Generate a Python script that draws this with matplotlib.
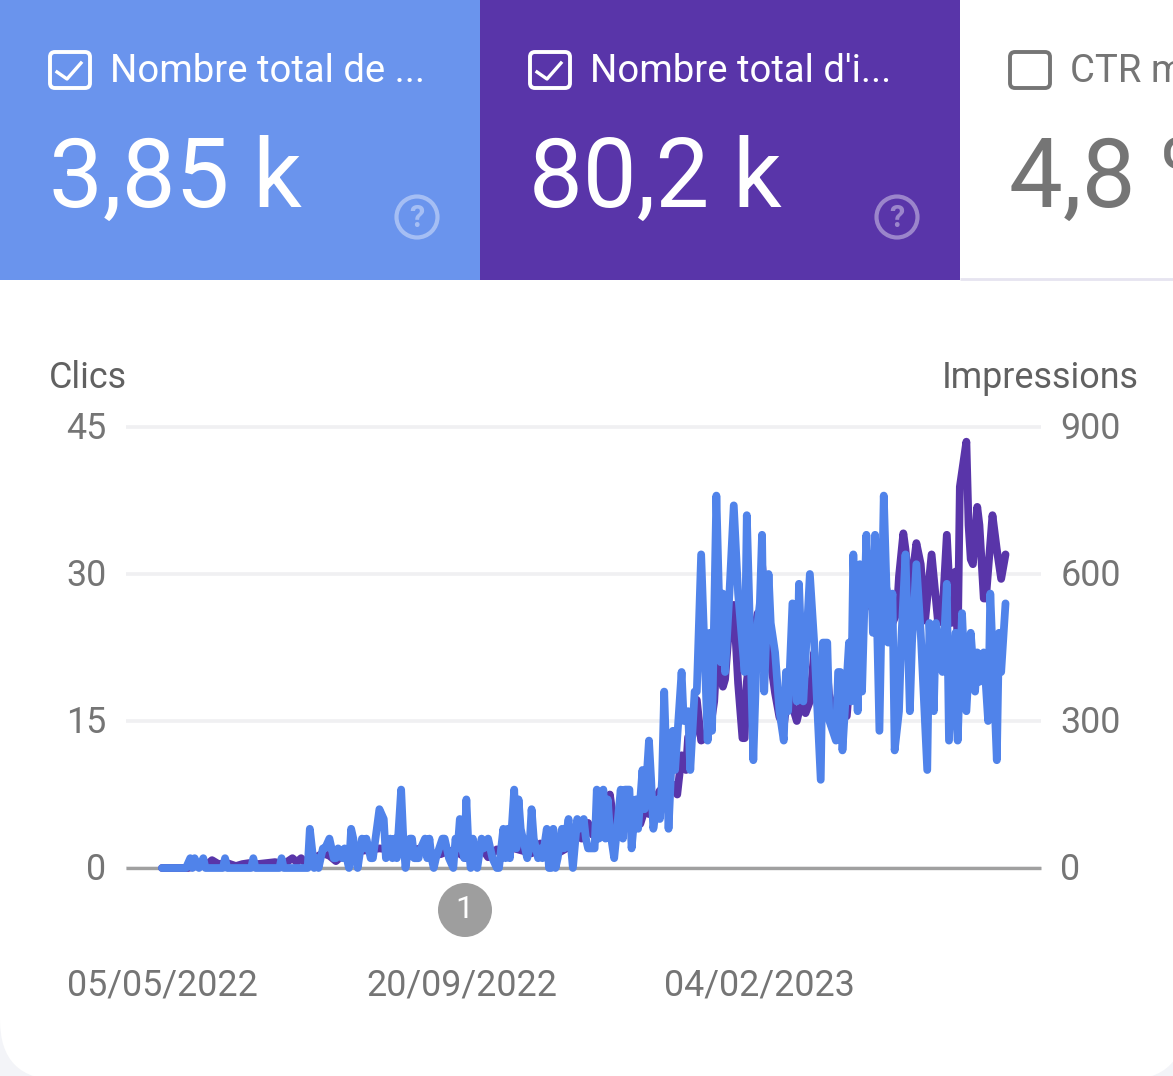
import datetime as dt
import matplotlib
matplotlib.use("Agg")
import matplotlib.pyplot as plt
import matplotlib.dates as mdates
from matplotlib.patches import Rectangle, FancyBboxPatch, Circle
from matplotlib.transforms import ScaledTranslation

plt.rcParams['font.family'] = ['Roboto', 'DejaVu Sans']

START = dt.date(2022, 5, 5)

# (jour depuis le debut, valeur)
clics_pts = [
    (0,0),(11,0),(13,1),(14,0),(15,1),(17,0),(19,1),(20,0),(28,0),(29,1),(30,0),(41,0),(42,1),(43,0),
    (54,0),(55,1),(56,0),(67,0),(68,4),(70,0),(71,1),(72,0),(74,2),(75,2),(77,3),(79,1),(80,1),(81,2),
    (83,1),(84,2),(85,1),(86,0),(87,4),(88,3),(89,1),(90,0),(92,3),(93,2),(94,3),(95,2),(96,1),(97,1),
    (100,6),(102,5),(103,1),(105,3),(106,1),(107,3),(108,1),(110,8),(111,3),(112,0),(114,3),(115,3),
    (116,1),(118,1),(119,2),(121,3),(122,1),(123,3),(124,1),(125,0),(126,1),(129,3),(130,3),(131,2),
    (132,1),(134,0),(135,3),(136,2),(137,5),(138,2),(139,1),(140,7),(141,2),(142,0),(143,3),(145,0),
    (147,3),(148,2),(150,3),(152,1),(154,0),(155,0),(157,4),(158,1),(159,4),(160,1),(162,8),(163,2),
    (164,7),(165,4),(167,2),(168,1),(169,2),(170,6),(171,3),(173,1),(174,2),(175,1),(177,4),(178,0),
    (179,0),(180,4),(181,0),(182,1),(184,4),(185,2),(187,5),(189,0),(191,5),(192,4),(194,5),(195,3),
    (196,2),(199,2),(200,8),(201,3),(203,8),(204,3),(205,7),(206,4),(208,1),(211,8),(212,3),(213,8),
    (215,8),(216,2),(218,7),(219,4),(221,10),(222,6),(224,13),(225,9),(226,4),(228,7),(229,5),(230,9),
    (231,18),(232,11),(233,4),(235,14),(236,10),(239,20),(240,15),(242,16),(243,10),(245,18),(246,18),
    (248,32),(251,13),(252,24),(253,14),(255,38),(257,21),(258,28),(259,20),(261,28),(263,37),(265,28),
    (268,20),(269,36),(271,20),(272,11),(274,25),(275,27),(276,34),(277,18),(279,30),(280,25),(282,22),
    (284,16),(286,13),(287,20),(288,16),(290,27),(292,17),(293,29),(295,17),(298,30),(300,23),(303,9),
    (304,23),(306,23),(307,15),(310,13),(311,20),(312,20),(313,12),(316,23),(317,17),(318,32),(320,16),
    (321,31),(322,18),(324,34),(325,27),(326,32),(327,24),(328,34),(330,14),(332,38),(334,23),(336,28),
    (337,12),(339,16),(340,23),(342,32),(344,16),(345,23),(347,31),(349,24),(352,10),(353,25),(355,16),
    (356,25),(359,20),(361,29),(362,13),(365,24),(366,13),(368,26),(370,16),(372,24),(374,18),(375,22),
    (376,19),(378,22),(380,15),(381,28),(384,11),(385,24),(386,20),(388,27),
]
impressions_pts = [
    (0,0),(12,0),(16,4),(19,6),(21,8),(23,16),(26,8),(30,10),(34,4),(37,8),(40,10),(44,8),(48,10),(52,12),
    (56,8),(60,20),(62,12),(64,20),(66,10),(70,20),(74,30),(77,25),(80,14),(84,30),(88,30),(92,35),(100,40),
    (104,38),(108,45),(112,45),(116,38),(120,40),(124,30),(128,28),(132,35),(136,32),(140,20),(144,25),
    (148,35),(150,22),(154,38),(158,35),(162,40),(166,35),(170,30),(174,50),(178,40),(182,30),(186,40),
    (190,80),(193,60),(196,92),(198,68),(201,80),(203,85),(205,100),(206,150),(208,88),(210,90),(213,100),
    (216,100),(218,110),(220,90),(222,118),(224,110),(226,130),(229,158),(231,150),(233,158),(235,170),
    (237,150),(239,230),(241,200),(242,267),(244,270),(246,343),(248,260),(250,265),(252,280),(254,340),
    (255,420),(256,500),(257,420),(258,370),(259,385),(261,500),(263,537),(265,377),(267,265),(268,265),
    (269,380),(271,450),(274,520),(275,430),(276,620),(278,520),(280,420),(282,357),(284,308),(286,290),
    (288,360),(290,330),(292,300),(294,337),(296,316),(298,340),(300,440),(302,308),(304,380),(306,400),
    (308,290),(312,380),(315,310),(318,480),(322,520),(326,550),(330,600),(333,575),(336,500),(338,520),
    (339,595),(341,683),(342,650),(344,555),(347,663),(349,620),(350,560),(351,505),(354,640),(357,500),
    (359,520),(361,680),(363,500),(364,590),(365,605),(366,450),(367,778),(370,870),(371,700),(372,630),
    (373,620),(375,737),(376,700),(378,550),(379,550),(382,720),(384,650),(386,590),(388,640),
]
clics_ticks = [0, 15, 30, 45]
impressions_ticks = [0, 300, 600, 900]
date_ticks = [dt.date(2022, 5, 5), dt.date(2022, 9, 20), dt.date(2023, 2, 4)]

BLUE = '#5083ea'
PURPLE = '#5935a9'
W, H = 1173, 1076

fig = plt.figure(figsize=(W / 100, H / 100), dpi=100, facecolor='white')

# calque en pixels pour les tuiles du haut
bg = fig.add_axes([0, 0, 1, 1], zorder=0)
bg.set_xlim(0, W)
bg.set_ylim(H, 0)
bg.axis('off')
# fond de page et carte blanche aux coins arrondis
bg.add_patch(Rectangle((0, 960), W, H - 960, color='#f3f4f8', lw=0))
bg.add_patch(FancyBboxPatch((0, 280), 1185, 800, boxstyle='round,pad=0,rounding_size=60', fc='white', ec='none'))
bg.add_patch(Rectangle((0, 0), 480, 280, color='#6a94ed', lw=0))
bg.add_patch(Rectangle((480, 0), 480, 280, color=PURPLE, lw=0))
bg.plot([960, W], [278.5, 278.5], color='#e6e4f0', lw=2, solid_capstyle='butt')


def tile(x, label, value, color, checked):
    bg.add_patch(FancyBboxPatch((x + 50, 52), 40, 36, boxstyle='round,pad=0,rounding_size=5',
                                fc='none', ec=color, lw=2.8))
    if checked:
        bg.plot([x + 57, x + 67, x + 81], [72, 79, 63], color=color, lw=2.4)
    bg.text(x + 109.5, 71, label, color=color, fontsize=27.5, va='center', ha='left')
    bg.text(x + 49, 207, value, color=color, fontsize=69, va='baseline', ha='left')
    if checked:
        bg.add_patch(Circle((x + 417, 217), 20.5, fc='none', ec=color, lw=3, alpha=0.4))
        bg.text(x + 417, 218, '?', color=color, alpha=0.4, fontsize=22, ha='center', va='center', weight='bold')


tile(0, 'Nombre total de ...', '3,85 k', 'white', True)
tile(480, "Nombre total d'i...", '80,2 k', 'white', True)
tile(960, 'CTR moyen', '4,8 %', '#757575', False)

# graphique
days_to_px = 2.174
x_left = mdates.date2num(START) + (126 - 162) / days_to_px
x_right = mdates.date2num(START) + (1041 - 162) / days_to_px
rect = [126 / W, 1 - 868 / H, (1041 - 126) / W, (868 - 427) / H]

ax_imp = fig.add_axes(rect, zorder=1)
ax_cl = ax_imp.twinx()
ax_imp.yaxis.tick_right()
ax_cl.yaxis.tick_left()
ax_cl.set_zorder(2)
ax_imp.patch.set_visible(False)
ax_cl.patch.set_visible(False)

imp_dates = [START + dt.timedelta(days=d) for d, v in impressions_pts]
cl_dates = [START + dt.timedelta(days=d) for d, v in clics_pts]
ax_imp.plot(imp_dates, [v for d, v in impressions_pts], color=PURPLE, lw=5.6, clip_on=False,
            solid_joinstyle='round', solid_capstyle='round', zorder=3)
ax_cl.plot(cl_dates, [v for d, v in clics_pts], color=BLUE, lw=5.6, clip_on=False,
           solid_joinstyle='round', solid_capstyle='round', zorder=3)

ax_imp.set_ylim(0, 900)
ax_cl.set_ylim(0, 45)
ax_imp.set_xlim(x_left, x_right)
ax_cl.set_xlim(x_left, x_right)

ax_imp.set_yticks(impressions_ticks)
ax_cl.set_yticks(clics_ticks)
ax_imp.set_xticks(date_ticks)
ax_imp.xaxis.set_major_formatter(mdates.DateFormatter('%d/%m/%Y'))

for s in list(ax_imp.spines.values()) + list(ax_cl.spines.values()):
    s.set_visible(False)
ax_imp.grid(axis='y', color='#f0f0f2', lw=2.6, zorder=0, clip_on=False)
for g in ax_imp.get_ygridlines():
    g.set_clip_on(False)
    g.set_solid_capstyle('butt')
ax_imp.set_axisbelow(True)
ax_imp.axhline(0, color='#a0a0a0', lw=2.4, zorder=2, clip_on=False, solid_capstyle='butt')

ax_imp.tick_params(axis='y', length=0, pad=14, labelsize=25.8, labelcolor='#757575')
ax_cl.tick_params(axis='y', length=0, pad=14, labelsize=25.8, labelcolor='#757575')
ax_imp.tick_params(axis='x', length=0, pad=71.5, labelsize=25.8, labelcolor='#757575')

# remonter un peu les etiquettes des axes y
up = ScaledTranslation(0, 2 / 100, fig.dpi_scale_trans)
for lab in ax_imp.get_yticklabels() + ax_cl.get_yticklabels():
    lab.set_transform(lab.get_transform() + up)

bg.text(49, 378, 'Clics', color='#616161', fontsize=25.8, va='center', ha='left')
bg.text(1139, 378, 'Impressions', color='#616161', fontsize=25.8, va='center', ha='right')

# annotation 1
bg.add_patch(Circle((465, 910), 27, fc='#9e9e9e', ec='none'))
bg.text(464, 909, '1', color='white', fontsize=23, ha='center', va='center')

fig.savefig('out.png', dpi=100, facecolor='white')
